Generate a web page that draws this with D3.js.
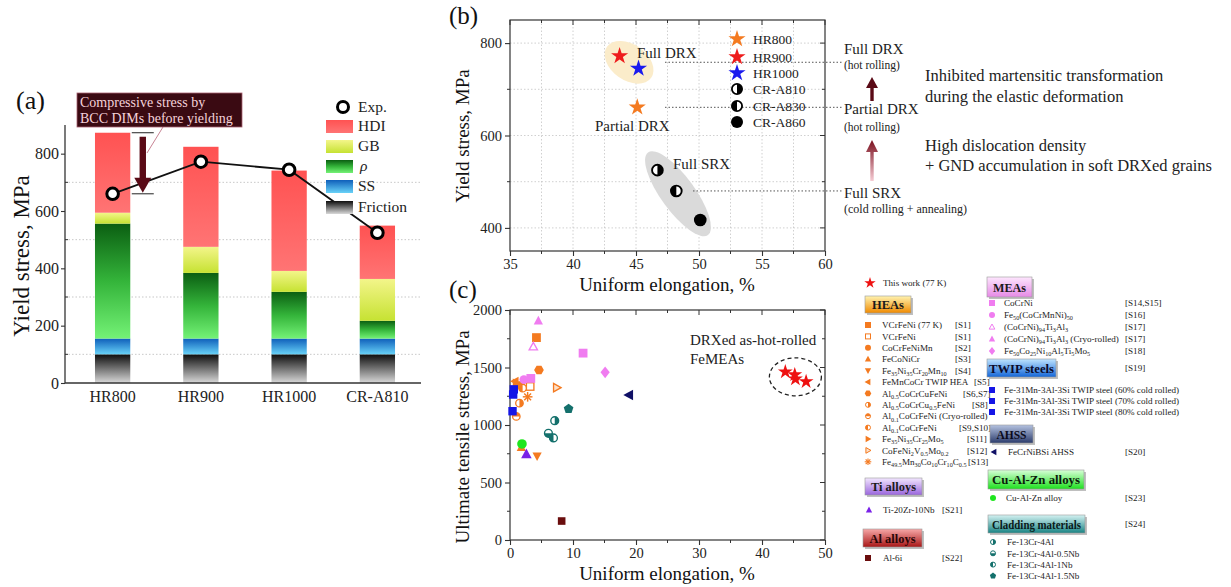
<!DOCTYPE html>
<html><head><meta charset="utf-8">
<script src="https://cdn.jsdelivr.net/npm/d3@7"></script>
<style>
body{margin:0;background:#fff;overflow:hidden;}
svg{display:block;font-family:"Liberation Serif","Times New Roman",serif;}
svg text{font-family:"Liberation Serif","Times New Roman",serif;}
</style></head><body>
<svg id="c" width="1231" height="587"></svg>
<script>
// ================= DATA =================
// Panel (a): yield-stress contributions (MPa)
const categoriesA = ["HR800", "HR900", "HR1000", "CR-A810"];
const friction = [100, 100, 100, 100];
const ss = [55, 55, 55, 55];
const rho = [401, 229, 163, 62];
const gb = [38, 91, 73, 146];
const hdi = [279, 349, 350, 186];
const expYield = [660, 772, 744, 524];
const yTicksA = [0, 200, 400, 600, 800];

// Panel (b)
const samplesB = ["HR800", "HR900", "HR1000", "CR-A810", "CR-A830", "CR-A860"];
const elongB = [45.1, 43.7, 45.2, 46.7, 48.2, 50.1];
const yieldB = [661, 772, 745, 525, 480, 417];
const xTicksB = [35, 40, 45, 50, 55, 60];
const yTicksB = [400, 600, 800];

// Panel (c)
const thisWorkElong = [43.7, 45.2, 45.3, 47.0];
const thisWorkUTS = [1462, 1437, 1400, 1377];
const heaLabels = ["VCrFeNi (77 K)", "VCrFeNi", "CoCrFeNiMn", "FeCoNiCr", "Fe_{35}Ni_{35}Cr_{20}Mn_{10}", "FeMnCoCr TWIP HEA", "Al_{0.5}CoCrCuFeNi", "Al_{0.5}CoCrCu_{0.5}FeNi", "Al_{0.1}CoCrFeNi (Cryo-rolled)", "Al_{0.1}CoCrFeNi", "Fe_{35}Ni_{35}Cr_{25}Mo_{5}", "CoFeNi_{2}V_{0.5}Mo_{0.2}", "Fe_{49.5}Mn_{30}Co_{10}Cr_{10}C_{0.5}"];
const heaRefs = ["[S1]", "[S1]", "[S2]", "[S3]", "[S4]", "[S5]", "[S6,S7]", "[S8]", "", "[S9,S10]", "[S11]", "[S12]", "[S13]"];
const heaShapes = ["square", "squareOpen", "circle", "triUp", "triDown", "triLeft", "hexagon", "halfR", "halfT", "halfL", "triRight", "triRightOpen", "asterisk"];
const heaElong = [4.2, 3.2, 1.7, 1.8, 4.3, 0.8, 4.6, 1.5, 1.0, 2.0, 1.0, 7.4, 2.8];
const heaUTS = [1760, 1335, 1345, 805, 730, 1380, 1478, 1190, 1075, 1320, 1365, 1325, 1245];
const meaLabels = ["CoCrNi", "Fe_{50}(CoCrMnNi)_{50}", "(CoCrNi)_{94}Ti_{3}Al_{3}", "(CoCrNi)_{94}Ti_{3}Al_{3} (Cryo-rolled)", "Fe_{50}Co_{25}Ni_{10}Al_{5}Ti_{5}Mo_{5}"];
const meaRefs = ["[S14,S15]", "[S16]", "[S17]", "[S17]", "[S18]"];
const meaShapes = ["square", "circle", "triUpOpen", "triUp", "diamond"];
const meaPointIdx = [0, 0, 1, 2, 3, 4];
const meaElong = [3.3, 11.6, 2.2, 3.7, 4.5, 15.1];
const meaUTS = [1405, 1625, 1395, 1680, 1905, 1458];
const twipLabels = ["Fe-31Mn-3Al-3Si TWIP steel (60% cold rolled)", "Fe-31Mn-3Al-3Si TWIP steel (70% cold rolled)", "Fe-31Mn-3Al-3Si TWIP steel (80% cold rolled)"];
const twipElong = [0.6, 0.5, 0.4];
const twipUTS = [1310, 1265, 1120];
const ahssLabels = ["FeCrNiBSi AHSS"];
const ahssElong = [18.9];
const ahssUTS = [1260];
const cuLabels = ["Cu-Al-Zn alloy"];
const cuElong = [1.9];
const cuUTS = [835];
const cladLabels = ["Fe-13Cr-4Al", "Fe-13Cr-4Al-0.5Nb", "Fe-13Cr-4Al-1Nb", "Fe-13Cr-4Al-1.5Nb"];
const cladShapes = ["halfR", "halfB", "halfL", "pentagon"];
const cladElong = [7.1, 6.1, 6.9, 9.3];
const cladUTS = [1038, 928, 888, 1140];
const tiLabels = ["Ti-20Zr-10Nb"];
const tiElong = [2.6];
const tiUTS = [745];
const alLabels = ["Al-6i"];
const alElong = [8.2];
const alUTS = [165];
const xTicksC = [0, 10, 20, 30, 40, 50];
const yTicksC = [0, 500, 1000, 1500, 2000];

// ================= HELPERS =================
const SERIF = '"Liberation Serif","Times New Roman",serif';
const svg = d3.select("#c");
const defs = svg.append("defs");
function vgrad(id, stops, user) {
  const g = defs.append("linearGradient").attr("id", id).attr("x1", 0).attr("y1", 0).attr("x2", 0).attr("y2", 1);
  if (user) g.attr("gradientUnits", "userSpaceOnUse").attr("y1", user[0]).attr("y2", user[1]);
  stops.forEach(([o, c]) => g.append("stop").attr("offset", o).attr("stop-color", c));
}
function richText(sel, str, fs) {
  const parts = str.split(/(_\{[^}]*\})/);
  let sub = false;
  parts.forEach(p => {
    if (!p) return;
    const m = p.match(/^_\{([^}]*)\}$/);
    if (m) { sel.append("tspan").attr("font-size", fs * 0.68).attr("dy", sub ? 0 : fs * 0.25).text(m[1]); sub = true; }
    else { const t = sel.append("tspan").text(p); if (sub) { t.attr("dy", -fs * 0.25); sub = false; } }
  });
}
function poly(pts) { return "M" + pts.map(p => p[0].toFixed(2) + "," + p[1].toFixed(2)).join("L") + "Z"; }
function regPoly(n, r, rot) { return poly(d3.range(n).map(i => { const a = rot + i * 2 * Math.PI / n; return [r * Math.cos(a), r * Math.sin(a)]; })); }
function marker(g, type, cx, cy, s, color) {
  const el = g.append("g").attr("transform", `translate(${cx},${cy})`);
  const sw = Math.max(1, s * 0.3);
  switch (type) {
    case "square": el.append("rect").attr("x", -s).attr("y", -s).attr("width", 2 * s).attr("height", 2 * s).attr("fill", color); break;
    case "squareOpen": el.append("rect").attr("x", -s + sw / 2).attr("y", -s + sw / 2).attr("width", 2 * s - sw).attr("height", 2 * s - sw).attr("fill", "#fff").attr("stroke", color).attr("stroke-width", sw); break;
    case "circle": el.append("circle").attr("r", s).attr("fill", color); break;
    case "triUp": el.append("path").attr("d", poly([[0, -s * 1.15], [s * 1.05, s * 0.8], [-s * 1.05, s * 0.8]])).attr("fill", color); break;
    case "triUpOpen": el.append("path").attr("d", poly([[0, -s * 1.0], [s * 0.95, s * 0.7], [-s * 0.95, s * 0.7]])).attr("fill", "#fff").attr("stroke", color).attr("stroke-width", sw); break;
    case "triDown": el.append("path").attr("d", poly([[0, s * 1.15], [s * 1.05, -s * 0.8], [-s * 1.05, -s * 0.8]])).attr("fill", color); break;
    case "triLeft": el.append("path").attr("d", poly([[-s * 1.15, 0], [s * 0.8, -s * 1.05], [s * 0.8, s * 1.05]])).attr("fill", color); break;
    case "triRight": el.append("path").attr("d", poly([[s * 1.15, 0], [-s * 0.8, -s * 1.05], [-s * 0.8, s * 1.05]])).attr("fill", color); break;
    case "triRightOpen": el.append("path").attr("d", poly([[s * 1.0, 0], [-s * 0.7, -s * 0.95], [-s * 0.7, s * 0.95]])).attr("fill", "#fde0c8").attr("stroke", color).attr("stroke-width", sw); break;
    case "hexagon": el.append("path").attr("d", regPoly(6, s * 1.1, 0)).attr("fill", color); break;
    case "pentagon": el.append("path").attr("d", regPoly(5, s * 1.1, -Math.PI / 2)).attr("fill", color); break;
    case "diamond": el.append("path").attr("d", poly([[0, -s * 1.35], [s * 1.05, 0], [0, s * 1.35], [-s * 1.05, 0]])).attr("fill", color); break;
    case "asterisk":
      [0, 45, 90, 135].forEach(a => { const r = s * 1.1, c = Math.cos(a * Math.PI / 180) * r, d = Math.sin(a * Math.PI / 180) * r;
        el.append("line").attr("x1", -c).attr("y1", -d).attr("x2", c).attr("y2", d).attr("stroke", color).attr("stroke-width", sw * 1.1); });
      break;
    case "star": el.append("path").attr("d", d3.symbol(d3.symbolStar, s * s / 0.8908)()).attr("fill", color); break;
    case "halfR": case "halfL": case "halfT": case "halfB": {
      const r = s - sw / 2;
      el.append("circle").attr("r", r).attr("fill", "#fff").attr("stroke", color).attr("stroke-width", sw);
      const d = { halfR: `M0,${-r}A${r},${r} 0 0 1 0,${r}Z`, halfL: `M0,${-r}A${r},${r} 0 0 0 0,${r}Z`,
                  halfT: `M${-r},0A${r},${r} 0 0 1 ${r},0Z`, halfB: `M${-r},0A${r},${r} 0 0 0 ${r},0Z` }[type];
      el.append("path").attr("d", d).attr("fill", color);
      break;
    }
  }
  return el;
}
function styleAxis(ax, fs) {
  ax.attr("font-family", null).attr("font-size", null);
  ax.selectAll("text").attr("font-size", fs).style("font-family", SERIF).attr("fill", "#222");
  ax.selectAll("line").attr("stroke", "#333").attr("stroke-width", 1.1);
  ax.select(".domain").remove();
}

// ================= PANEL (a) =================
vgrad("gHDI", [[0, "#ff5252"], [1, "#ff7474"]]);
vgrad("gGB", [[0, "#f3f58a"], [1, "#c6e232"]]);
vgrad("grho", [[0, "#0b5e12"], [0.5, "#34b43a"], [1, "#74f276"]]);
vgrad("gSS", [[0, "#0f5fba"], [1, "#68d2f8"]]);
vgrad("gFriction", [[0, "#0e0e0e"], [1, "#d9d9d9"]]);

const gA = svg.append("g");
const yA = d3.scaleLinear().domain([0, 900]).range([383, 125]);
const xA = d3.scaleBand().domain(categoriesA).range([68.5, 421.5]).paddingInner(0.6).paddingOuter(0.3);

gA.selectAll(".gridA").data([100, 300, 500, 700]).join("line")
  .attr("x1", 65).attr("x2", 421).attr("y1", d => yA(d)).attr("y2", d => yA(d))
  .attr("stroke", "#b9b9b9").attr("stroke-width", 0.8).attr("stroke-dasharray", "1.5,2");

const compKeys = ["Friction", "SS", "rho", "GB", "HDI"];
const compData = categoriesA.map((c, i) => ({ cat: c, Friction: friction[i], SS: ss[i], rho: rho[i], GB: gb[i], HDI: hdi[i] }));
const stackA = d3.stack().keys(compKeys)(compData);
gA.selectAll(".layer").data(stackA).join("g").attr("fill", d => `url(#g${d.key})`)
  .selectAll("rect").data(d => d).join("rect")
  .attr("x", d => xA(d.data.cat)).attr("width", xA.bandwidth())
  .attr("y", d => yA(d[1])).attr("height", d => yA(d[0]) - yA(d[1]));

// axes
const axA = gA.append("g").attr("transform", "translate(65,0)")
  .call(d3.axisLeft(yA).tickValues(yTicksA).tickSize(4).tickSizeOuter(0).tickPadding(2));
styleAxis(axA, 16);
gA.selectAll(".minA").data([100, 300, 500, 700]).join("line").attr("x1", 65).attr("x2", 68)
  .attr("y1", d => yA(d)).attr("y2", d => yA(d)).attr("stroke", "#333");
gA.append("line").attr("x1", 65).attr("x2", 65).attr("y1", yA(900)).attr("y2", yA(0)).attr("stroke", "#333").attr("stroke-width", 1.3);
const axAx = gA.append("g").attr("transform", "translate(0,383)")
  .call(d3.axisBottom(xA).tickSize(0).tickPadding(8));
styleAxis(axAx, 16);
gA.append("line").attr("x1", 65).attr("x2", 421).attr("y1", 383).attr("y2", 383).attr("stroke", "#333").attr("stroke-width", 1.5);

// Exp line
const lineA = d3.line().x((d, i) => xA(categoriesA[i]) + xA.bandwidth() / 2).y(d => yA(d));
gA.append("path").attr("d", lineA(expYield)).attr("fill", "none").attr("stroke", "#111").attr("stroke-width", 1.8);
gA.selectAll(".expPt").data(expYield).join("circle")
  .attr("cx", (d, i) => xA(categoriesA[i]) + xA.bandwidth() / 2).attr("cy", d => yA(d))
  .attr("r", 5.8).attr("fill", "#fff").attr("stroke", "#000").attr("stroke-width", 3);

// compressive stress annotation
const capX0 = xA("HR800") + xA.bandwidth() + 1.5, capX1 = capX0 + 22, arrX = (capX0 + capX1) / 2;
const hr800Top = friction[0] + ss[0] + rho[0] + gb[0] + hdi[0];
gA.append("line").attr("x1", capX0).attr("x2", capX1).attr("y1", yA(hr800Top)).attr("y2", yA(hr800Top)).attr("stroke", "#222").attr("stroke-width", 1);
gA.append("line").attr("x1", capX0).attr("x2", capX1).attr("y1", yA(expYield[0])).attr("y2", yA(expYield[0])).attr("stroke", "#222").attr("stroke-width", 1);
gA.append("rect").attr("x", arrX - 3.2).attr("y", yA(hr800Top) + 4).attr("width", 6.4).attr("height", yA(expYield[0]) - yA(hr800Top) - 18).attr("fill", "#5a0a16");
gA.append("path").attr("d", poly([[arrX - 8.5, yA(expYield[0]) - 16], [arrX + 8.5, yA(expYield[0]) - 16], [arrX, yA(expYield[0]) - 1]])).attr("fill", "#5a0a16");
gA.append("line").attr("x1", 163).attr("y1", 127).attr("x2", 147).attr("y2", 153).attr("stroke", "#c88494").attr("stroke-width", 1);
gA.append("rect").attr("x", 77).attr("y", 93).attr("width", 165).attr("height", 34).attr("fill", "#3a0a12").attr("stroke", "#a86070").attr("stroke-width", 0.8);
gA.append("text").attr("x", 80).attr("y", 107).attr("font-size", 14).attr("fill", "#f5d2da").text("Compressive stress by");
gA.append("text").attr("x", 80).attr("y", 123).attr("font-size", 14).attr("fill", "#f5d2da").text("BCC DIMs before yielding");

// legend (a)
gA.append("circle").attr("cx", 343).attr("cy", 107).attr("r", 5.5).attr("fill", "#fff").attr("stroke", "#000").attr("stroke-width", 3);
gA.append("text").attr("x", 358).attr("y", 112).attr("font-size", 15.5).attr("fill", "#222").text("Exp.");
const legA = [["HDI", "HDI", 120], ["GB", "GB", 140], ["rho", "ρ", 160], ["SS", "SS", 180], ["Friction", "Friction", 201]];
legA.forEach(([k, lab, y]) => {
  gA.append("rect").attr("x", 326).attr("y", y).attr("width", 27).attr("height", 13).attr("fill", `url(#g${k})`);
  const t = gA.append("text").attr("x", 358).attr("y", y + 11).attr("font-size", 15.5).attr("fill", "#222").text(lab);
  if (k === "rho") t.attr("font-style", "italic").attr("x", 360);
});
gA.append("text").attr("x", 16).attr("y", 109).attr("font-size", 26).attr("fill", "#111").text("(a)");
gA.append("text").attr("transform", "translate(29,256) rotate(-90)").attr("text-anchor", "middle").attr("font-size", 23).attr("fill", "#111").text("Yield stress, MPa");

// ================= PANEL (b) =================
const gB = svg.append("g");
const xB = d3.scaleLinear().domain([35, 60]).range([510, 825]);
const yB = d3.scaleLinear().domain([350, 850]).range([251, 20]);
gB.selectAll(".gvB").data(d3.range(37.5, 60, 2.5)).join("line")
  .attr("x1", d => xB(d)).attr("x2", d => xB(d)).attr("y1", 20).attr("y2", 251)
  .attr("stroke", "#c4c4c4").attr("stroke-width", 0.8).attr("stroke-dasharray", "1.5,2");
gB.selectAll(".ghB").data([400, 500, 600, 700, 800]).join("line")
  .attr("x1", 510).attr("x2", 825).attr("y1", d => yB(d)).attr("y2", d => yB(d))
  .attr("stroke", "#c4c4c4").attr("stroke-width", 0.8).attr("stroke-dasharray", "1.5,2");

// ellipses
const fullDRX = [1, 2], fullSRX = [3, 4, 5];
const mean = (idx, arr) => d3.mean(idx, i => arr[i]);
gB.append("ellipse").attr("transform", `translate(${xB(mean(fullDRX, elongB))},${yB(mean(fullDRX, yieldB))}) rotate(35)`)
  .attr("rx", 27).attr("ry", 18).attr("fill", "#fbecca");
gB.append("ellipse").attr("transform", `translate(${xB(mean(fullSRX, elongB))},${yB(mean(fullSRX, yieldB))}) rotate(54)`)
  .attr("rx", 51).attr("ry", 17).attr("fill", "#dadada");

// leader dotted lines
const drxY = yB(mean(fullDRX, yieldB));
[[665, drxY], [665, yB(yieldB[0])], [693, yB(yieldB[4])]].forEach(([x0, y]) => {
  gB.append("line").attr("x1", x0).attr("x2", 843).attr("y1", y).attr("y2", y)
    .attr("stroke", "#555").attr("stroke-width", 1).attr("stroke-dasharray", "1.5,2");
});

// axes (b)
const axBb = gB.append("g").attr("transform", "translate(0,251)").call(d3.axisBottom(xB).tickValues(xTicksB).tickSize(5).tickPadding(3));
styleAxis(axBb, 14.5);
const axBl = gB.append("g").attr("transform", "translate(510,0)").call(d3.axisLeft(yB).tickValues(yTicksB).tickSize(5).tickPadding(3));
styleAxis(axBl, 14.5);
d3.range(37.5, 60, 5).forEach(v => { gB.append("line").attr("x1", xB(v)).attr("x2", xB(v)).attr("y1", 251).attr("y2", 254).attr("stroke", "#333"); });
xTicksB.concat(d3.range(37.5, 60, 5)).forEach(v => { const l = xTicksB.includes(v) ? 5 : 3; gB.append("line").attr("x1", xB(v)).attr("x2", xB(v)).attr("y1", 20).attr("y2", 20 + l).attr("stroke", "#333"); });
[500, 700].forEach(v => { gB.append("line").attr("x1", 507).attr("x2", 510).attr("y1", yB(v)).attr("y2", yB(v)).attr("stroke", "#333"); });
[400, 500, 600, 700, 800].forEach(v => { const l = yTicksB.includes(v) ? 5 : 3; gB.append("line").attr("x1", 825 - l).attr("x2", 825).attr("y1", yB(v)).attr("y2", yB(v)).attr("stroke", "#333"); });
gB.append("rect").attr("x", 510).attr("y", 20).attr("width", 315).attr("height", 231).attr("fill", "none").attr("stroke", "#333").attr("stroke-width", 1.2);

// points (b)
const colB = { HR800: "#f47a20", HR900: "#ee1c1c", HR1000: "#1a1aee" };
const shapeB = { "CR-A810": "halfR", "CR-A830": "halfL", "CR-A860": "circle" };
samplesB.forEach((s, i) => {
  if (colB[s]) marker(gB, "star", xB(elongB[i]), yB(yieldB[i]), 9, colB[s]);
  else marker(gB, shapeB[s], xB(elongB[i]), yB(yieldB[i]), 6.3, "#000");
});
gB.append("text").attr("x", 637).attr("y", 58).attr("font-size", 15).attr("fill", "#222").text("Full DRX");
gB.append("text").attr("x", 595).attr("y", 131).attr("font-size", 15).attr("fill", "#222").text("Partial DRX");
gB.append("text").attr("x", 673).attr("y", 169).attr("font-size", 15).attr("fill", "#222").text("Full SRX");

// legend (b)
samplesB.forEach((s, i) => {
  const y = [39, 57, 73, 89, 106, 122][i];
  if (colB[s]) marker(gB, "star", 737, y, 9, colB[s]);
  else marker(gB, shapeB[s], 737, y, 6, "#000");
  gB.append("text").attr("x", 753).attr("y", y + 5).attr("font-size", 13.5).attr("fill", "#222").text(s);
});

gB.append("text").attr("x", 449).attr("y", 24).attr("font-size", 25).attr("fill", "#111").text("(b)");
gB.append("text").attr("transform", "translate(469,136) rotate(-90)").attr("text-anchor", "middle").attr("font-size", 19).attr("fill", "#111").text("Yield stress, MPa");
gB.append("text").attr("x", 667).attr("y", 291).attr("text-anchor", "middle").attr("font-size", 19).attr("fill", "#111").text("Uniform elongation, %");

// right annotations
const rt = (x, y, fs, s) => gB.append("text").attr("x", x).attr("y", y).attr("font-size", fs).attr("fill", "#222").text(s);
rt(844, 54, 15, "Full DRX"); rt(844, 69, 11.5, "(hot rolling)");
rt(844, 114, 15, "Partial DRX"); rt(844, 131, 11.5, "(hot rolling)");
rt(844, 198, 15, "Full SRX"); rt(844, 213, 12, "(cold rolling + annealing)");
[["Inhibited martensitic transformation", 81], ["during the elastic deformation", 102], ["High dislocation density", 151], ["+ GND accumulation in soft DRXed grains", 171]]
  .forEach(([s, y]) => gB.append("text").attr("x", 925).attr("y", y).attr("font-size", 16.5).attr("fill", "#222").text(s));
gB.append("rect").attr("x", 870.3).attr("y", 86).attr("width", 3.4).attr("height", 15).attr("fill", "#5a0a16");
gB.append("path").attr("d", poly([[866, 88], [878, 88], [872, 77]])).attr("fill", "#5a0a16");
vgrad("gArr2", [[0, "#7a0f1e"], [1, "#f6ccd4"]], [140, 181]);
gB.append("rect").attr("x", 870.3).attr("y", 150).attr("width", 3.4).attr("height", 31).attr("fill", "url(#gArr2)");
gB.append("path").attr("d", poly([[866, 152], [878, 152], [872, 140]])).attr("fill", "url(#gArr2)");

// ================= PANEL (c) =================
const gC = svg.append("g");
const xC = d3.scaleLinear().domain([0, 50]).range([510, 825]);
const yC = d3.scaleLinear().domain([0, 2000]).range([540, 310]);
const axCb = gC.append("g").attr("transform", "translate(0,540)").call(d3.axisBottom(xC).tickValues(xTicksC).tickFormat(d3.format("d")).tickSize(5).tickPadding(3));
styleAxis(axCb, 14.5);
const axCl = gC.append("g").attr("transform", "translate(510,0)").call(d3.axisLeft(yC).tickValues(yTicksC).tickFormat(d3.format("d")).tickSize(5).tickPadding(3));
styleAxis(axCl, 14.5);
d3.range(5, 50, 10).forEach(v => { gC.append("line").attr("x1", xC(v)).attr("x2", xC(v)).attr("y1", 540).attr("y2", 543).attr("stroke", "#333"); });
d3.range(0, 51, 5).forEach(v => { const l = v % 10 === 0 ? 5 : 3; gC.append("line").attr("x1", xC(v)).attr("x2", xC(v)).attr("y1", 310).attr("y2", 310 + l).attr("stroke", "#333"); });
d3.range(250, 2000, 500).forEach(v => { gC.append("line").attr("x1", 507).attr("x2", 510).attr("y1", yC(v)).attr("y2", yC(v)).attr("stroke", "#333"); });
d3.range(0, 2001, 250).forEach(v => { const l = v % 500 === 0 ? 5 : 3; gC.append("line").attr("x1", 825 - l).attr("x2", 825).attr("y1", yC(v)).attr("y2", yC(v)).attr("stroke", "#333"); });
gC.append("rect").attr("x", 510).attr("y", 310).attr("width", 315).attr("height", 230).attr("fill", "none").attr("stroke", "#333").attr("stroke-width", 1.2);

const C = { hea: "#f47a20", mea: "#f07cf0", twip: "#1515e6", ahss: "#101066", cu: "#1ee61e", clad: "#14706c", ti: "#7a22e8", al: "#6a0d0d", star: "#ee1111" };
// points
alElong.forEach((e, i) => marker(gC, "square", xC(e), yC(alUTS[i]), 3.8, C.al));
cladElong.forEach((e, i) => marker(gC, cladShapes[i], xC(e), yC(cladUTS[i]), 4.6, C.clad));
heaElong.forEach((e, i) => marker(gC, heaShapes[i], xC(e), yC(heaUTS[i]), 4.4, C.hea));
meaElong.forEach((e, i) => marker(gC, meaShapes[meaPointIdx[i]], xC(e), yC(meaUTS[i]), 4.4, C.mea));
twipElong.forEach((e, i) => marker(gC, "square", xC(e), yC(twipUTS[i]), 4.2, C.twip));
ahssElong.forEach((e, i) => marker(gC, "triLeft", xC(e), yC(ahssUTS[i]), 5, C.ahss));
cuElong.forEach((e, i) => marker(gC, "circle", xC(e), yC(cuUTS[i]), 4.8, C.cu));
tiElong.forEach((e, i) => marker(gC, "triUp", xC(e), yC(tiUTS[i]), 5, C.ti));
thisWorkElong.forEach((e, i) => marker(gC, "star", xC(e), yC(thisWorkUTS[i]), 7.8, C.star));
gC.append("ellipse").attr("cx", xC(d3.mean(thisWorkElong))).attr("cy", yC(d3.mean(thisWorkUTS))).attr("rx", 26).attr("ry", 19)
  .attr("fill", "none").attr("stroke", "#222").attr("stroke-width", 1.3).attr("stroke-dasharray", "4,3");
gC.append("text").attr("x", 690).attr("y", 345).attr("font-size", 15).attr("fill", "#222").text("DRXed as-hot-rolled");
gC.append("text").attr("x", 690).attr("y", 364).attr("font-size", 15).attr("fill", "#222").text("FeMEAs");

gC.append("text").attr("x", 449).attr("y", 298).attr("font-size", 25).attr("fill", "#111").text("(c)");
gC.append("text").attr("transform", "translate(469,437) rotate(-90)").attr("text-anchor", "middle").attr("font-size", 19).attr("fill", "#111").text("Ultimate tensile stress, MPa");
gC.append("text").attr("x", 667).attr("y", 580).attr("text-anchor", "middle").attr("font-size", 19).attr("fill", "#111").text("Uniform elongation, %");

// ================= LEGEND (c) =================
const gL = svg.append("g");
const LF = 9.1;
function legRow(mx, tx, y, shape, color, label, ref, refX) {
  marker(gL, shape, mx, y, 3, color);
  const t = gL.append("text").attr("x", tx).attr("y", y + 3.2).attr("font-size", LF).attr("fill", "#222");
  richText(t, label, LF);
  if (ref) gL.append("text").attr("x", refX).attr("y", y + 3.2).attr("font-size", LF).attr("fill", "#222").text(ref);
}
function header(x, y, w, h, label, tw, c0, c1, tc, id) {
  vgrad(id, [[0, c0], [1, c1]]);
  gL.append("rect").attr("x", x + 2).attr("y", y + 2).attr("width", w).attr("height", h).attr("fill", "#8a8a8a").attr("opacity", 0.55);
  gL.append("rect").attr("x", x).attr("y", y).attr("width", w).attr("height", h).attr("fill", `url(#${id})`).attr("stroke", "#9a9a9a").attr("stroke-width", 0.6);
  gL.append("text").attr("x", x + w / 2).attr("y", y + h / 2 + 4.5).attr("text-anchor", "middle").attr("font-size", 13).attr("font-weight", "bold")
    .attr("fill", tc).attr("textLength", tw).attr("lengthAdjust", "spacingAndGlyphs").text(label);
}
// left column
marker(gL, "star", 870, 283, 6, C.star);
gL.append("text").attr("x", 883).attr("y", 286.3).attr("font-size", LF).attr("fill", "#222").text("This work (77 K)");
header(865, 296, 46, 17, "HEAs", 32, "#fff3b0", "#f08a00", "#1a1a1a", "hHEA");
const heaRefX = [955, 955, 955, 955, 955, 974, 963, 972, 0, 959, 967, 967, 968];
heaLabels.forEach((l, i) => legRow(868, 882, 325 + i * 11.4, heaShapes[i], C.hea, l, heaRefs[i], heaRefX[i]));
header(865, 478, 57, 17, "Ti alloys", 45, "#f2e6ff", "#9a66dd", "#1a1a1a", "hTi");
tiLabels.forEach((l, i) => legRow(869, 883, 510, "triUp", C.ti, l, "[S21]", 942));
header(863, 529, 59, 18, "Al alloys", 46, "#f7a8a8", "#a81616", "#2a0505", "hAl");
alLabels.forEach((l, i) => legRow(868, 883, 558, "square", C.al, l, "[S22]", 942));
// middle column
header(987, 277, 45, 20, "MEAs", 33, "#fde6fd", "#e68ae6", "#1a1a1a", "hMEA");
meaLabels.forEach((l, i) => legRow(992, 1004, 303 + i * 12, meaShapes[i], C.mea, l, meaRefs[i], 1125));
header(987, 359, 69, 18, "TWIP steels", 65, "#bfe4ff", "#1466d8", "#0a0a2a", "hTWIP");
gL.append("text").attr("x", 1125).attr("y", 371).attr("font-size", LF).attr("fill", "#222").text("[S19]");
twipLabels.forEach((l, i) => legRow(992, 1004, 390 + i * 11, "square", C.twip, l, "", 0));
header(990, 425, 43, 18, "AHSS", 30, "#b4c2e0", "#2c3c6c", "#0a0a1a", "hAHSS");
ahssLabels.forEach((l, i) => legRow(994, 1008, 452, "triLeft", C.ahss, l, "[S20]", 1125));
header(988, 470, 96, 19, "Cu-Al-Zn alloys", 88, "#d8ffd8", "#1ee01e", "#0a1a0a", "hCu");
cuLabels.forEach((l, i) => legRow(993, 1006, 498, "circle", C.cu, l, "[S23]", 1125));
header(988, 515, 97, 18, "Cladding materials", 89, "#d4f2f2", "#1a8484", "#0a1a1a", "hClad");
gL.append("text").attr("x", 1125).attr("y", 527).attr("font-size", LF).attr("fill", "#222").text("[S24]");
cladLabels.forEach((l, i) => legRow(993, 1007, 542 + i * 11.3, cladShapes[i], C.clad, l, "", 0));
</script>
</body></html>
